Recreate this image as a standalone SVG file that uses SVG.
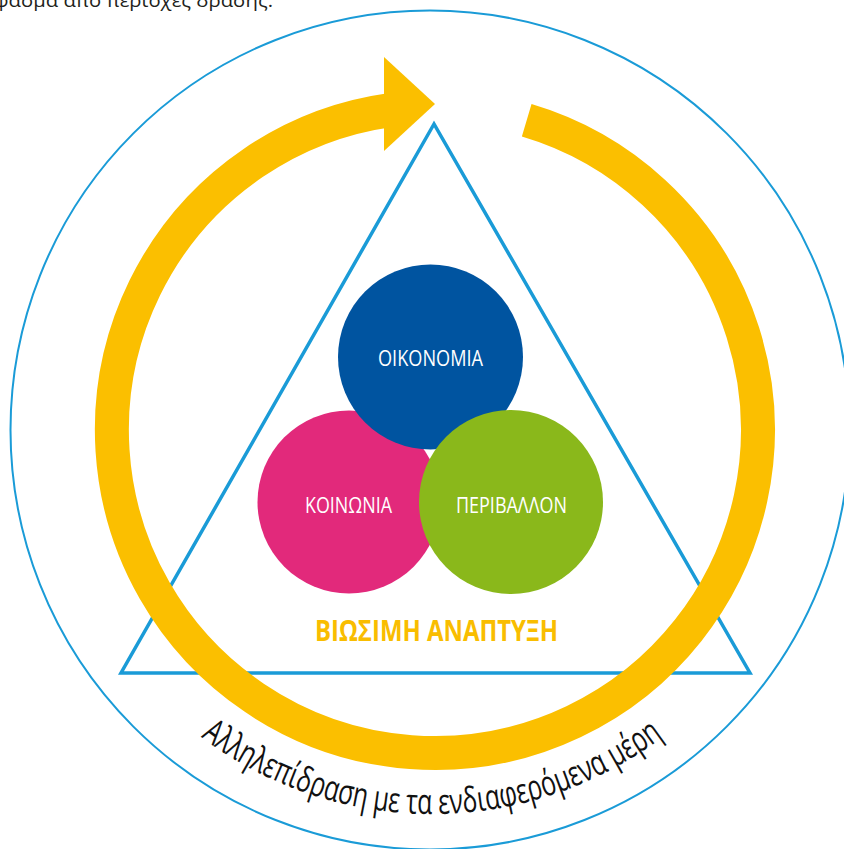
<svg xmlns="http://www.w3.org/2000/svg" width="844" height="849" viewBox="0 0 844 849">
  <defs>
    <style>
      .lbl { font-family: "Open Sans", "Noto Sans", "DejaVu Sans", sans-serif; fill: #ffffff; font-size: 21px; text-anchor: middle; }
      .line { fill: none; stroke: #1a9bd7; }
    </style>
    <path id="textArc" d="M 99.4 622 A 384 384 0 0 0 764.6 622"/>
  </defs>
  <rect width="844" height="849" fill="#ffffff"/>

  <text x="-6" y="7" font-family="Open Sans, Noto Sans, sans-serif" font-size="19" fill="#231f20" textLength="279" lengthAdjust="spacingAndGlyphs">φάσμα από περιοχές δράσης.</text>

  <g id="outer-circle">
    <circle class="line" cx="430" cy="430" r="419.5" stroke-width="2"/>
  </g>

  <g id="triangle">
    <polygon class="line" points="434,124 121,673 750,673" stroke-width="3.5" stroke-linejoin="miter"/>
  </g>

  <g id="cycle-arrow">
    <path d="M 526.7 120.3 A 323 323 0 1 1 390.05 110.1" fill="none" stroke="#fbbf00" stroke-width="34"/>
    <polygon points="384,57 435,104 384,151" fill="#fbbf00"/>
  </g>

  <g id="node-koinonia">
    <circle cx="349" cy="502" r="91.5" fill="#e2297b"/>
  </g>
  <g id="node-oikonomia">
    <circle cx="430.5" cy="357" r="92.5" fill="#0054a0"/>
  </g>
  <g id="node-perivallon">
    <circle cx="511" cy="502" r="92" fill="#8ab81b"/>
  </g>

  <g id="labels">
    <text class="lbl" x="430.5" y="366" textLength="105" lengthAdjust="spacingAndGlyphs">ΟΙΚΟΝΟΜΙΑ</text>
    <text class="lbl" x="348.5" y="513" textLength="87" lengthAdjust="spacingAndGlyphs">ΚΟΙΝΩΝΙΑ</text>
    <text class="lbl" x="511.5" y="513" textLength="111" lengthAdjust="spacingAndGlyphs">ΠΕΡΙΒΑΛΛΟΝ</text>
    <text x="436.5" y="641" font-family="Open Sans, Noto Sans, sans-serif" font-weight="bold" font-size="29" fill="#f9bd00" text-anchor="middle" textLength="243" lengthAdjust="spacingAndGlyphs">ΒΙΩΣΙΜΗ ΑΝΑΠΤΥΞΗ</text>
  </g>

  <g id="arc-label">
    <text font-family="Open Sans, Noto Sans, sans-serif" font-size="35" fill="#111111">
      <textPath href="#textArc" startOffset="50%" text-anchor="middle" textLength="496" lengthAdjust="spacingAndGlyphs">Αλληλεπίδραση με τα ενδιαφερόμενα μέρη</textPath>
    </text>
  </g>
</svg>
